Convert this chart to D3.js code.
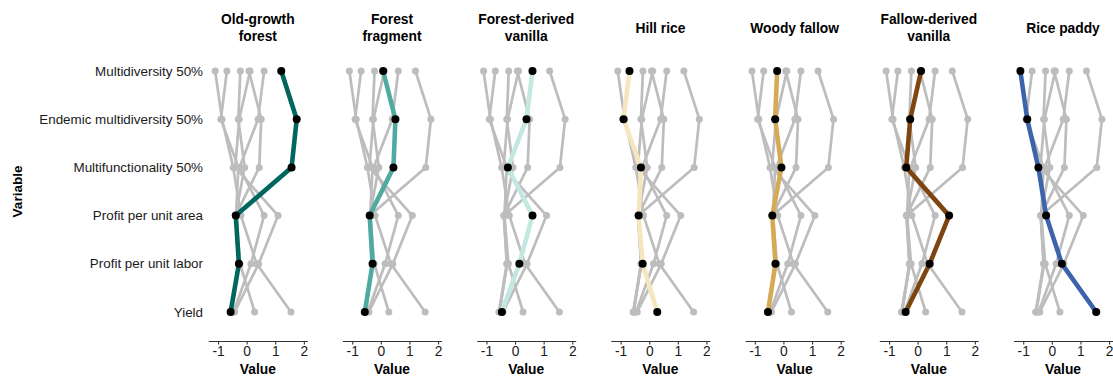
<!DOCTYPE html>
<html>
<head>
<meta charset="utf-8">
<script src="https://cdn.jsdelivr.net/npm/d3@7"></script>
<style>
  html, body { margin: 0; padding: 0; background: #ffffff; }
  svg { display: block; font-family: "Liberation Sans", Arial, sans-serif; }
</style>
</head>
<body>
<svg id="chart" width="1113" height="378"></svg>
<script>
// Land uses (one facet each) and their highlight colours
const landUses = ["Old-growth forest", "Forest fragment", "Forest-derived vanilla",
                  "Hill rice", "Woody fallow", "Fallow-derived vanilla", "Rice paddy"];
const titleLines = [["Old-growth", "forest"], ["Forest", "fragment"], ["Forest-derived", "vanilla"],
                    ["Hill rice"], ["Woody fallow"], ["Fallow-derived", "vanilla"], ["Rice paddy"]];
const landUseColors = ["#01665e", "#4fab9f", "#c2e8e1", "#f5e6c0", "#d5aa55", "#7e4510", "#3b64ad"];

// Variables on the y axis, top to bottom
const variables = ["Multidiversity 50%", "Endemic multidiversity 50%", "Multifunctionality 50%",
                   "Profit per unit area", "Profit per unit labor", "Yield"];

// Standardised values per land use, in the order of `variables`
const oldGrowthForest      = [ 1.21,  1.75,  1.57, -0.38, -0.27, -0.56];
const forestFragment       = [ 0.08,  0.51,  0.44, -0.39, -0.29, -0.56];
const forestDerivedVanilla = [ 0.61,  0.40, -0.25,  0.61,  0.15, -0.46];
const hillRice             = [-0.69, -0.90, -0.29, -0.37, -0.23,  0.28];
const woodyFallow          = [-0.22, -0.29, -0.07, -0.39, -0.28, -0.54];
const fallowDerivedVanilla = [ 0.12, -0.26, -0.40,  1.10,  0.42, -0.42];
const ricePaddy            = [-1.10, -0.86, -0.47, -0.20,  0.35,  1.55];

const xTicks = [-1, 0, 1, 2];

const seriesValues = [oldGrowthForest, forestFragment, forestDerivedVanilla, hillRice,
                      woodyFallow, fallowDerivedVanilla, ricePaddy];
const series = landUses.map((name, i) => ({
  name, color: landUseColors[i],
  points: variables.map((v, j) => ({ variable: v, value: seriesValues[i][j] }))
}));

const svg = d3.select("#chart");

// Facet geometry
const panelLeft0 = 208.3, panelStep = 134.2, panelWidth = 99;
const axisY = 341;

const y = d3.scalePoint().domain(variables).range([71, 312]);

// Y-axis labels (shared, left of first panel)
svg.append("g")
  .selectAll("text")
  .data(variables)
  .join("text")
  .attr("x", 203)
  .attr("y", d => y(d))
  .attr("dy", "0.35em")
  .attr("text-anchor", "end")
  .attr("font-size", 13.4)
  .attr("fill", "#1a1a1a")
  .text(d => d);

svg.append("text")
  .attr("transform", `translate(22,${(71 + 312) / 2}) rotate(-90)`)
  .attr("text-anchor", "middle")
  .attr("font-size", 13.5)
  .attr("font-weight", "bold")
  .attr("fill", "#000")
  .text("Variable");

const line = d3.line();

landUses.forEach((lu, k) => {
  const left = panelLeft0 + k * panelStep;
  const x = d3.scaleLinear().domain([-1.34, 2.12]).range([left, left + panelWidth]);
  const g = svg.append("g");
  const toXY = p => [x(p.value), y(p.variable)];

  // Facet title
  const title = g.append("text")
    .attr("x", left + panelWidth / 2)
    .attr("text-anchor", "middle")
    .attr("font-size", 13.8)
    .attr("font-weight", "bold")
    .attr("fill", "#000");
  const lines = titleLines[k];
  const baseY = lines.length === 2 ? 24 : 33;
  lines.forEach((t, i) => {
    title.append("tspan").attr("x", left + panelWidth / 2).attr("y", baseY + i * 16.5).text(t);
  });

  // Other land uses in grey
  const others = series.filter(s => s.name !== lu);
  g.append("g").selectAll("path")
    .data(others)
    .join("path")
    .attr("d", s => line(s.points.map(toXY)))
    .attr("fill", "none")
    .attr("stroke", "#bdbdbd")
    .attr("stroke-width", 2.7)
    .attr("stroke-linejoin", "round");
  g.append("g").selectAll("circle")
    .data(others.flatMap(s => s.points))
    .join("circle")
    .attr("cx", p => x(p.value))
    .attr("cy", p => y(p.variable))
    .attr("r", 3.5)
    .attr("fill", "#bdbdbd");

  // Highlighted land use
  const s = series[k];
  g.append("path")
    .attr("d", line(s.points.map(toXY)))
    .attr("fill", "none")
    .attr("stroke", s.color)
    .attr("stroke-width", 4.6)
    .attr("stroke-linejoin", "round");
  g.append("g").selectAll("circle")
    .data(s.points)
    .join("circle")
    .attr("cx", p => x(p.value))
    .attr("cy", p => y(p.variable))
    .attr("r", 4)
    .attr("fill", "#000");

  // X axis
  const ax = g.append("g")
    .attr("transform", `translate(0,${axisY})`)
    .call(d3.axisBottom(x).tickValues(xTicks).tickSize(3.5).tickSizeOuter(0).tickPadding(2)
      .tickFormat(d => d < 0 ? "-" + Math.abs(d) : String(d)));
  ax.select(".domain").attr("stroke", "#333").attr("stroke-width", 1.1);
  ax.selectAll(".tick line").attr("stroke", "#333").attr("stroke-width", 1.1);
  ax.selectAll(".tick text").attr("font-size", 13.8).attr("fill", "#1a1a1a")
    .attr("font-family", "Liberation Sans, Arial, sans-serif");

  g.append("text")
    .attr("x", left + panelWidth / 2)
    .attr("y", 374)
    .attr("text-anchor", "middle")
    .attr("font-size", 13.8)
    .attr("font-weight", "bold")
    .attr("fill", "#000")
    .text("Value");
});
</script>
</body>
</html>
